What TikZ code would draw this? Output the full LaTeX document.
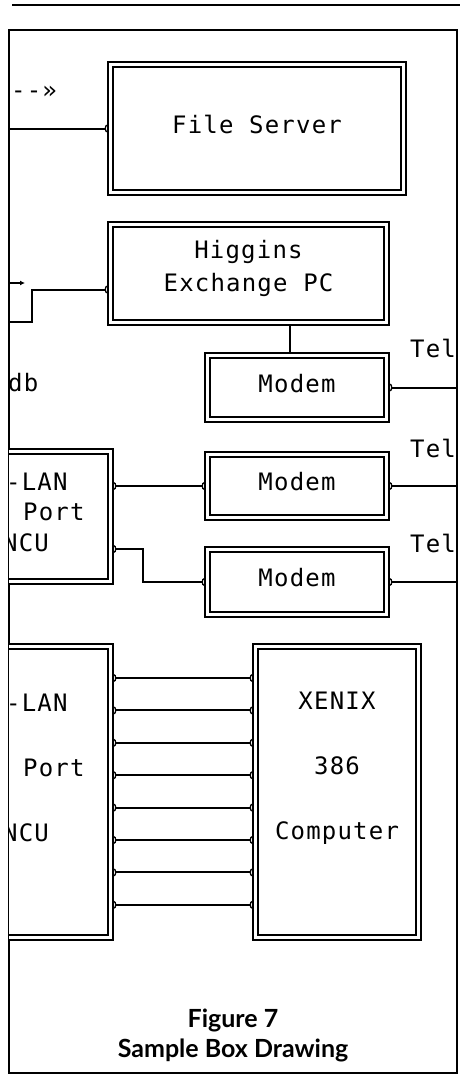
\documentclass[tikz,border=0pt]{standalone}
\usepackage{fontspec}
\newfontfamily\boxfont[LetterSpace=5]{DejaVu Sans Mono}
\newfontfamily\capfont{Lato}
\usetikzlibrary{arrows.meta}

\begin{document}
\begin{tikzpicture}[x=1pt,y=-1pt,
  frm/.style={draw,line width=2pt,minimum width=448pt,minimum height=1043pt,inner sep=0pt},
  box/.style={draw,double,line width=1.7pt,double distance=3.2pt,fill=white,inner sep=0pt,
    outer sep=3.3pt,align=center,text depth=9pt,font=\boxfont\fontsize{24}{33}\selectfont},
  lbl/.style={inner sep=0pt,font=\boxfont\fontsize{24}{33}\selectfont},
  wire/.style={line width=2pt},
  bump/.tip={Arc Barb[reversed,width=8pt,length=2.6pt,line width=1.3pt]}]
\useasboundingbox (0,0) rectangle (460,1076);
\draw[line width=2pt] (12,5) -- (460,5);
\node[frm] (frame) at (233,551.5) {};
% boxes
\node[box,minimum width=293pt,minimum height=128pt] (fs) at (257,128.5) {File Server};
\node[box,minimum width=276pt,minimum height=98pt,
  label={[lbl,align=center,yshift=5pt]center:Higgins\\Exchange PC}] (hx) at (248.5,273.5) {};
\node[box,minimum width=179pt,minimum height=64pt] (m1) at (297,387.5) {Modem};
\node[box,minimum width=179pt,minimum height=63pt] (m2) at (297,486) {Modem};
\node[box,minimum width=179pt,minimum height=65pt] (m3) at (297,582) {Modem};
\node[box,minimum width=163pt,minimum height=291pt,
  label={[lbl,align=center,font=\boxfont\fontsize{24}{65}\selectfont,yshift=24pt]center:XENIX\\386\\Computer}]
  (xenix) at (337,792) {};
\begin{scope}
\clip (9,30) rectangle (457,1073);
\node[box,minimum width=130.5pt,minimum height=130pt] (p1) at (45.25,516.5) {};
\node[box,minimum width=130.5pt,minimum height=291pt] (p2) at (45.25,792) {};
\node[lbl,anchor=west] at (6,482) {-LAN};
\node[lbl,anchor=west] at (23,512) {Port};
\node[lbl,anchor=west] at (3,543) {NCU};
\node[lbl,anchor=west] at (6,703) {-LAN};
\node[lbl,anchor=west] at (23,768) {Port};
\node[lbl,anchor=west] at (3,833) {NCU};
\node[lbl,anchor=west] at (8,383) {db};
\end{scope}
\node[lbl,anchor=west] at (11,92) {--»};
\node[lbl] at (433,348) {Tel};
\node[lbl] at (433,448) {Tel};
\node[lbl] at (433,543) {Tel};
% connectors
\coordinate (tap) at (25,283);
\draw[wire,-bump] (frame.west |- fs.west) -- (fs.west);
\draw[wire,-{Latex[length=5pt,width=5pt]}] (frame.west |- tap) -- (tap);
\draw[wire,bump-] ([yshift=-16pt]hx.west) -| (32,322) -- (frame.west |- 0,322);
\draw[wire] (hx.south -| 290,0) -- (m1.north -| 290,0);
\draw[wire,bump-] (m1.east) -- (m1.east -| frame.east);
\draw[wire,bump-] (m2.east) -- (m2.east -| frame.east);
\draw[wire,bump-] (m3.east) -- (m3.east -| frame.east);
\draw[wire,bump-bump] (p1.east |- m2.west) -- (m2.west);
\draw[wire,bump-bump] (p1.east |- 0,549) -| (143,582) -- (m3.west);
\foreach \k in {0,...,7}{
  \pgfmathsetmacro\yy{678+32.4*\k}
  \draw[wire,bump-bump] (p2.east |- 0,\yy) -- (xenix.west |- 0,\yy);
}
\node[font=\capfont\bfseries\fontsize{25}{30}\selectfont,align=center] (cap) at (233,1035)
  {Figure 7\\Sample Box Drawing};
\end{tikzpicture}
\end{document}
